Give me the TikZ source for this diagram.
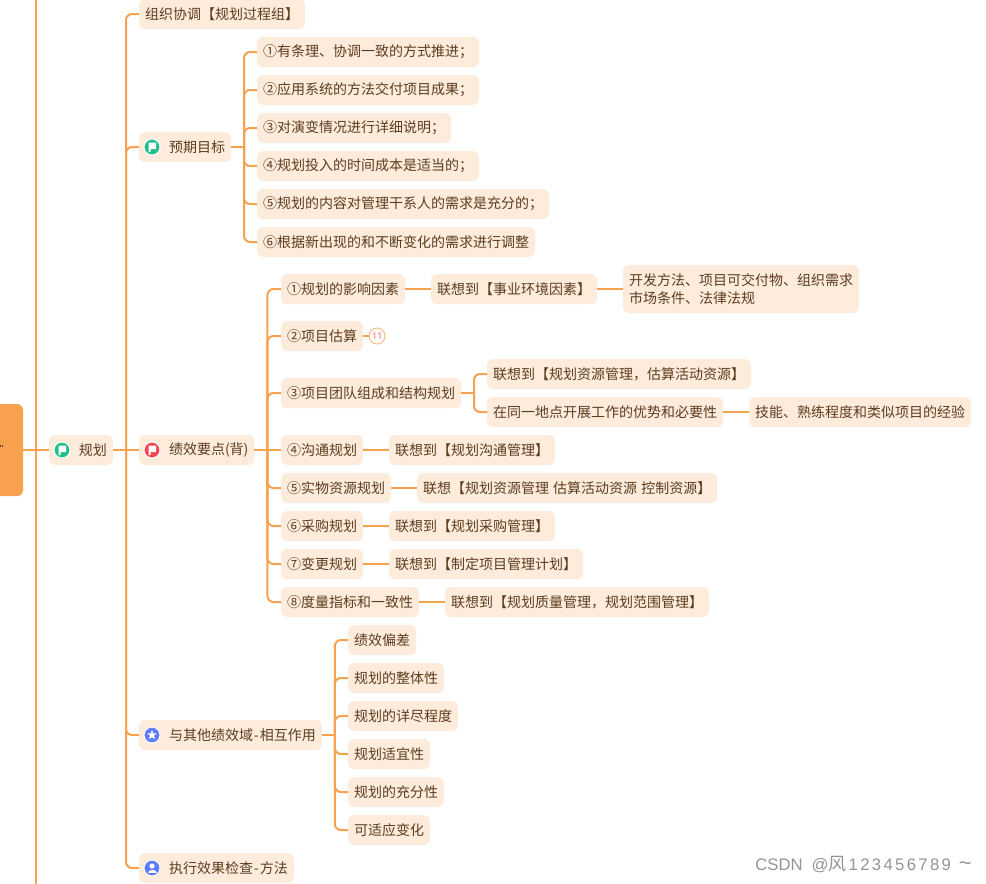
\documentclass[tikz,border=0pt]{standalone}
\usepackage{fontspec}
\setmainfont{Noto Sans CJK SC}
\newfontfamily\latinfont{Liberation Sans}
\newfontfamily\digitfont[LetterSpace=14]{Liberation Sans}
\newfontfamily\countfont{Open Sans}
\usetikzlibrary{positioning}

\definecolor{linecol}{HTML}{F8A24F}
\definecolor{boxcol}{HTML}{FDEBDC}
\definecolor{inkcol}{HTML}{5C3D20}
\definecolor{flaggreen}{HTML}{1FBF8A}
\definecolor{flagred}{HTML}{F5444F}
\definecolor{iconblue}{HTML}{5F7CF8}
\definecolor{countcol}{HTML}{F6AFA0}

\begin{document}
\begin{tikzpicture}[
    x=1pt, y=-1pt,
    node distance=26pt,
    font=\fontsize{14}{18}\selectfont,
    box/.style={fill=boxcol, text=inkcol, rounded corners=6pt, minimum height=30pt,
        inner xsep=6pt, inner ysep=0pt, outer sep=0pt},
    rowbox/.style={box, anchor=west},
    dot/.style={circle, draw=white, line width=1pt, minimum size=16pt, inner sep=0pt, outer sep=0pt},
    link/.style={draw=linecol, line width=2pt},
    branch/.style={link, rounded corners=6pt},
    flagmark/.pic={\fill[white] (-3.5,5) -- (-3.5,-4.5) -- (4,-4.5) -- (4,2) -- (-1.5,2) -- (-1.5,5) -- cycle;},
    starmark/.pic={\fill[white] (-90:5) -- (-54:2.1) -- (-18:5) -- (18:2.1) -- (54:5) -- (90:2.1)
        -- (126:5) -- (162:2.1) -- (198:5) -- (234:2.1) -- cycle;},
    personmark/.pic={\fill[white] (0,-2) circle (2.6pt);
        \fill[white] (-4.5,4.5) .. controls (-4.5,0.8) and (4.5,0.8) .. (4.5,4.5) -- cycle;}
]
\clip (0,0) rectangle (986,884);

% 主干
\node (root) [fill=linecol, rounded corners=6pt, minimum width=43pt, minimum height=92pt,
    inner sep=0pt, outer sep=0pt] at (1.5,450) {};
\fill[inkcol] (0,444.5) rectangle (1.2,447);
\fill[inkcol] (2,444.5) rectangle (3,447);
\coordinate (top) at (36,0);
\coordinate (bot) at (36,884);
\draw[link] (top) -- (bot);

% 第一层
\node (gh) [rowbox] at (49,450) {\hspace{24pt}规划};
\node (zz) [rowbox] at (139,14) {组织协调【规划过程组】};
\node (yq) [rowbox] at (139,147) {\hspace{24pt}预期目标};
\node (jx) [rowbox] at (139,450) {\hspace{24pt}绩效要点(背)};
\node (yt) [rowbox] at (139,735) {\hspace{24pt}与其他绩效域\kern1pt-\kern1pt相互作用};
\node (zx) [rowbox] at (139,868) {\hspace{24pt}执行效果检查\kern1pt-\kern1pt方法};

% 图标
\node (igh) [dot, fill=flaggreen] at ([xshift=13pt]gh.west) {};
\pic at (igh) {flagmark};
\node (iyq) [dot, fill=flaggreen] at ([xshift=13pt]yq.west) {};
\pic at (iyq) {flagmark};
\node (ijx) [dot, fill=flagred] at ([xshift=13pt]jx.west) {};
\pic at (ijx) {flagmark};
\node (iyt) [dot, fill=iconblue] at ([xshift=13pt]yt.west) {};
\pic at (iyt) {starmark};
\node (izx) [dot, fill=iconblue] at ([xshift=13pt]zx.west) {};
\pic at (izx) {personmark};

% 预期目标
\node (yq1) [rowbox] at (257,52) {①有条理、协调一致的方式推进；};
\node (yq2) [rowbox] at (257,90) {②应用系统的方法交付项目成果；};
\node (yq3) [rowbox] at (257,128) {③对演变情况进行详细说明；};
\node (yq4) [rowbox] at (257,166) {④规划投入的时间成本是适当的；};
\node (yq5) [rowbox] at (257,204) {⑤规划的内容对管理干系人的需求是充分的；};
\node (yq6) [rowbox] at (257,242) {⑥根据新出现的和不断变化的需求进行调整};

% 绩效要点
\node (jx1) [rowbox] at (281,289) {①规划的影响因素};
\node (jx2) [rowbox] at (281,336) {②项目估算};
\node (jx3) [rowbox] at (281,393) {③项目团队组成和结构规划};
\node (jx4) [rowbox] at (281,450) {④沟通规划};
\node (jx5) [rowbox] at (281,488) {⑤实物资源规划};
\node (jx6) [rowbox] at (281,526) {⑥采购规划};
\node (jx7) [rowbox] at (281,564) {⑦变更规划};
\node (jx8) [rowbox] at (281,602) {⑧度量指标和一致性};

\node (lx1) [rowbox, right=of jx1] {联想到【事业环境因素】};
\node (ff) [box, align=left, minimum height=48pt, right=of lx1] {开发方法、项目可交付物、组织需求\\市场条件、法律法规};
\node (n11) [circle, draw=linecol!70, line width=1pt, minimum size=16pt, inner sep=0pt, outer sep=0pt,
    text=countcol, font=\countfont\fontsize{9.5}{10}\selectfont\bfseries, right=6pt of jx2] {11};
\node (lx3a) [rowbox] at (487,374) {联想到【规划资源管理，估算活动资源】};
\node (lx3b) [rowbox] at (487,412) {在同一地点开展工作的优势和必要性};
\node (jn) [rowbox, right=of lx3b] {技能、熟练程度和类似项目的经验};
\node (lx4) [rowbox, right=of jx4] {联想到【规划沟通管理】};
\node (lx5) [rowbox, right=of jx5] {联想【规划资源管理 \hspace{1pt}估算活动资源 \hspace{1pt}控制资源】};
\node (lx6) [rowbox, right=of jx6] {联想到【规划采购管理】};
\node (lx7) [rowbox, right=of jx7] {联想到【制定项目管理计划】};
\node (lx8) [rowbox, right=of jx8] {联想到【规划质量管理，规划范围管理】};

% 相互作用
\node (yt1) [rowbox] at (348,640) {绩效偏差};
\node (yt2) [rowbox] at (348,678) {规划的整体性};
\node (yt3) [rowbox] at (348,716) {规划的详尽程度};
\node (yt4) [rowbox] at (348,754) {规划适宜性};
\node (yt5) [rowbox] at (348,792) {规划的充分性};
\node (yt6) [rowbox] at (348,830) {可适应变化};

% 连线
\draw[link] (root.east |- gh.west) -- (gh.west);
\draw[link] (gh.east) -- (jx.west);
\foreach \c in {zz,yq,yt,zx}
    \draw[branch] ([xshift=13pt]gh.east) |- (\c.west);
\draw[link] (yq.east) -- ++(13pt,0);
\foreach \c in {yq1,yq2,yq3,yq4,yq5,yq6}
    \draw[branch] ([xshift=13pt]yq.east) |- (\c.west);
\draw[link] (jx.east) -- (jx4.west);
\foreach \c in {jx1,jx2,jx3,jx5,jx6,jx7,jx8}
    \draw[branch] ([xshift=13pt]jx.east) |- (\c.west);
\draw[link] (yt.east) -- ++(13pt,0);
\foreach \c in {yt1,yt2,yt3,yt4,yt5,yt6}
    \draw[branch] ([xshift=13pt]yt.east) |- (\c.west);
\draw[link] (jx3.east) -- ++(13pt,0);
\foreach \c in {lx3a,lx3b}
    \draw[branch] ([xshift=13pt]jx3.east) |- (\c.west);
\draw[link] (jx1) -- (lx1);
\draw[link] (lx1) -- (ff);
\draw[link] (jx2) -- (n11);
\draw[link] (lx3b) -- (jn);
\draw[link] (jx4) -- (lx4);
\draw[link] (jx5) -- (lx5);
\draw[link] (jx6) -- (lx6);
\draw[link] (jx7) -- (lx7);
\draw[link] (jx8) -- (lx8);

% 水印
\node (mark) [anchor=east, inner sep=0pt, text=black!42, font=\fontsize{16.7}{18}\selectfont] at (972,865)
    {{\latinfont CSDN \hspace{4.4pt}@}{\fontsize{18}{18}\selectfont 风}\hspace{2pt}{\digitfont 123456789}\hspace{8pt}{\latinfont\fontsize{22}{22}\selectfont\textasciitilde}};

\end{tikzpicture}
\end{document}
